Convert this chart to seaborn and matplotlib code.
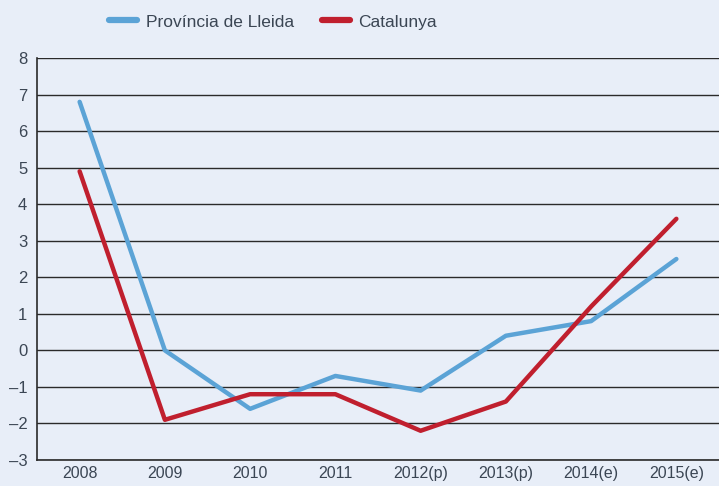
import matplotlib
matplotlib.use("Agg")
import matplotlib.pyplot as plt
import seaborn as sns
import pandas as pd
import numpy as np

years = ["2008", "2009", "2010", "2011", "2012(p)", "2013(p)", "2014(e)", "2015(e)"]
lleida = [6.8, 0.0, -1.6, -0.7, -1.1, 0.4, 0.8, 2.5]
catalunya = [4.9, -1.9, -1.2, -1.2, -2.2, -1.4, 1.2, 3.6]
series_names = ["Província de Lleida", "Catalunya"]
yticks = list(range(-3, 9))

sns.set_theme(style="white")
plt.rcParams['font.family'] = ['Liberation Sans Narrow', 'Liberation Sans', 'DejaVu Sans']

bg = "#e8eef8"
txt = "#3b4654"

df = pd.DataFrame({
    "pos": list(range(len(years))) * 2,
    "value": lleida + catalunya,
    "serie": [series_names[0]] * len(years) + [series_names[1]] * len(years),
})

fig = plt.figure(figsize=(7.19, 4.86), dpi=100, facecolor=bg)
ax = fig.add_axes([37 / 719, 1 - 460 / 486, 1 - 37 / 719, (460 - 58) / 486])
ax.set_facecolor(bg)

sns.lineplot(data=df, x="pos", y="value", hue="serie",
             palette={series_names[0]: "#5ba3d6", series_names[1]: "#c01f2e"},
             linewidth=3.2, ax=ax, legend=True)

ax.set_xlim(-0.5, len(years) - 0.5)
ax.set_ylim(-3, 8)
ax.set_yticks(yticks)
ax.set_yticklabels([str(t).replace("-", "–") for t in yticks], color=txt, fontsize=12)
ax.yaxis.grid(True, color="#2a2a2a", linewidth=1.0)
ax.set_axisbelow(True)

ax.set_xticks(np.arange(-0.5, len(years), 1.0))
ax.set_xticklabels([])
ax.set_xticks(range(len(years)), minor=True)
ax.set_xticklabels(years, minor=True, color=txt, fontsize=11.5)
ax.tick_params(axis="x", which="major", direction="out", length=5, color="#2a2a2a", width=1.2)
ax.tick_params(axis="x", which="minor", length=0, pad=4)
ax.tick_params(axis="y", direction="out", length=5, color="#2a2a2a", width=1.0, pad=2)

for s in ["top", "right"]:
    ax.spines[s].set_visible(False)
ax.spines["left"].set_color("#2a2a2a")
ax.spines["left"].set_linewidth(1.2)
ax.spines["bottom"].set_color("#2a2a2a")
ax.spines["bottom"].set_linewidth(1.2)
ax.set_xlabel("")
ax.set_ylabel("")

handles, labels = ax.get_legend_handles_labels()
ax.legend_.remove()
for h in handles:
    h.set_linewidth(4.5)
fig.legend(handles, labels, loc="center", bbox_to_anchor=(0.38, 1 - 22 / 486), ncol=2,
           frameon=False, fontsize=12.5, handlelength=1.6, handletextpad=0.5,
           columnspacing=1.6, labelcolor=txt)

fig.savefig("out.png", dpi=100, facecolor=bg)
